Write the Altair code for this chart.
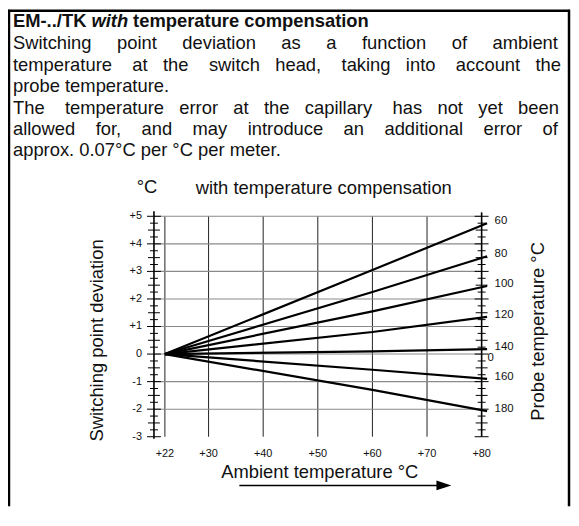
import altair as alt
import pandas as pd

NB = "\u00a0"
FONT = "Liberation Sans"

# ---------------- data ----------------
title_parts = ["EM-../TK", "with", "temperature compensation"]
body_lines = [
    "Switching point deviation as a function of ambient",
    "temperature at the switch head, taking into account the",
    "probe temperature.",
    "The temperature error at the capillary has not yet been",
    "allowed for, and may introduce an additional error of",
    "approx. 0.07°C per °C per meter.",
]
extra_nbsp = [28, 20, 0, 20, 24, 0]   # justification padding per line

ambient = [22, 60, 81]
probe_temps = [60, 80, 100, 120, 140, 160, 180]
dev_60 = [0, 3.05, 4.75]
dev_80 = [0, 2.25, 3.55]
dev_100 = [0, 1.55, 2.47]
dev_120 = [0, 0.80, 1.35]
dev_140 = [0, 0.10, 0.18]
dev_160 = [0, -0.57, -0.90]
dev_180 = [0, -1.30, -2.07]

x_ticks = [22, 30, 40, 50, 60, 70, 80]
x_tick_labels = ["+22", "+30", "+40", "+50", "+60", "+70", "+80"]
y_ticks = [-3, -2, -1, 0, 1, 2, 3, 4, 5]
y_tick_labels = ["-3", "-2", "-1", "0", "+1", "+2", "+3", "+4", "+5"]

# ---------------- layout ----------------
W, H = 330, 222
xs = alt.Scale(domain=[20, 80], nice=False, zero=False)
ys = alt.Scale(domain=[-3, 5], nice=False, zero=False)

series = [dev_60, dev_80, dev_100, dev_120, dev_140, dev_160, dev_180]
rows = []
for p, vals in zip(probe_temps, series):
    for a, v in zip(ambient, vals):
        rows.append({"probe": p, "amb": a, "dev": v})
lines_df = pd.DataFrame(rows)
ends_df = pd.DataFrame({"probe": [str(p) for p in probe_temps],
                        "dev": [s[-1] for s in series]})

one = pd.DataFrame({"a": [0]})


def justify(line, extra):
    words = line.split(" ")
    gaps = len(words) - 1
    if extra == 0 or gaps == 0:
        return line
    base, rem = divmod(extra, gaps)
    out = words[0]
    for i, w in enumerate(words[1:]):
        k = base + (1 if (i * rem) % gaps < rem else 0)
        out += " " + NB * k + w
    return out


def txt(text, x, y, size=18.5, align="left", baseline="alphabetic",
        weight="normal", style="normal", angle=0, color="#111"):
    return alt.Chart(pd.DataFrame({"t": [text]})).mark_text(
        font=FONT, fontSize=size, align=align, baseline=baseline,
        fontWeight=weight, fontStyle=style, angle=angle, color=color
    ).encode(text="t:N", x=alt.value(x), y=alt.value(y))


def rule(x, x2, y, y2, color="#000", width=1.0):
    return alt.Chart(one).mark_rule(color=color, strokeWidth=width).encode(
        x=alt.value(x), x2=alt.value(x2), y=alt.value(y), y2=alt.value(y2))


layers = []

# borders of the box
layers.append(rule(-146, -146, -208, H + 70, width=2.5))
layers.append(rule(418, 418, -208, H + 70, width=2.5))
layers.append(rule(-147, 419, -207, -207, width=2.5))

# grid
vgrid = pd.DataFrame({"v": x_ticks[:-1]})
layers.append(alt.Chart(vgrid).mark_rule(color="#222", strokeWidth=1).encode(
    x=alt.X("v:Q", scale=xs, axis=None), y=alt.value(0), y2=alt.value(H)))
hgrid = pd.DataFrame({"v": [-2, -1, 0, 1, 2, 3, 4, 5]})
layers.append(alt.Chart(hgrid).mark_rule(color="#8a8a8a", strokeWidth=1.1).encode(
    y=alt.Y("v:Q", scale=ys, axis=None), x=alt.value(0), x2=alt.value(W)))

# axis lines
layers.append(rule(0, 0, -5, H + 2, width=1.6))
layers.append(rule(W, W, -4, H, width=1.6))

# ticks on both vertical axes
quarters = pd.DataFrame({"v": [-3 + 0.25 * i for i in range(33) if i % 2 == 1]})
halves = pd.DataFrame({"v": [-3 + 0.5 * i for i in range(17) if i % 2 == 1]})
ints = pd.DataFrame({"v": y_ticks})
for df, ln in [(quarters, 4), (halves, 6), (ints, 7)]:
    for cx in (0, W):
        layers.append(alt.Chart(df).mark_rule(color="#000", strokeWidth=1).encode(
            y=alt.Y("v:Q", scale=ys, axis=None),
            x=alt.value(cx - ln), x2=alt.value(cx + ln)))

# curves
layers.append(alt.Chart(lines_df).mark_line(color="#000", strokeWidth=2.2).encode(
    x=alt.X("amb:Q", scale=xs, axis=None),
    y=alt.Y("dev:Q", scale=ys, axis=None),
    detail="probe:N"))

# curve labels
layers.append(alt.Chart(ends_df).mark_text(
    font=FONT, fontSize=11.5, align="left", baseline="middle", dx=0, dy=-2,
    color="#111").encode(
    x=alt.value(W + 13), y=alt.Y("dev:Q", scale=ys, axis=None), text="probe:N"))
layers.append(alt.Chart(pd.DataFrame({"v": [0], "t": ["0"]})).mark_text(
    font=FONT, fontSize=11.5, align="center", baseline="middle", dy=4,
    color="#111").encode(
    x=alt.value(W + 9), y=alt.Y("v:Q", scale=ys, axis=None), text="t:N"))

# tick labels
layers.append(alt.Chart(pd.DataFrame({"v": y_ticks, "t": y_tick_labels})).mark_text(
    font=FONT, fontSize=11, align="right", baseline="middle", color="#111").encode(
    x=alt.value(-12), y=alt.Y("v:Q", scale=ys, axis=None), text="t:N"))
layers.append(alt.Chart(pd.DataFrame({"v": x_ticks, "t": x_tick_labels})).mark_text(
    font=FONT, fontSize=11, align="center", baseline="middle", color="#111").encode(
    y=alt.value(H + 17), x=alt.X("v:Q", scale=xs, axis=None), text="t:N"))

# axis titles & annotations
layers.append(txt("°C", -7, -23, align="center"))
layers.append(txt("with temperature compensation", 171, -22, align="center"))
layers.append(txt("Switching point deviation", -57, 125, align="center",
                  baseline="middle", angle=270))
layers.append(txt("Probe temperature °C", 387, 116, align="center",
                  baseline="middle", angle=270))
layers.append(txt("Ambient temperature °C", 167, 264, align="center"))

# arrow
layers.append(rule(86, 286, 271, 271, width=1.5))
layers.append(alt.Chart(one).mark_point(
    shape="M-1,-0.67L1,0L-1,0.67Z", size=225, filled=True, color="#000",
    opacity=1, strokeWidth=0).encode(x=alt.value(292), y=alt.value(271)))

# header text
layers.append(txt(title_parts[0], -142, -191, weight="bold"))
layers.append(txt(title_parts[1], -63, -191, weight="bold", style="italic"))
layers.append(txt(title_parts[2], -21, -191, weight="bold"))
body_y = [-168, -146.5, -125, -103.5, -82, -60.5]
for line, extra, by in zip(body_lines, extra_nbsp, body_y):
    layers.append(txt(justify(line, extra), -142, by))

chart = alt.layer(*layers).properties(
    width=W, height=H,
    padding={"left": 147, "top": 208, "right": 90, "bottom": 70},
    autosize=alt.AutoSizeParams(type="none"),
).configure_view(strokeWidth=0)

chart.save("out.html", embed_options={"renderer": "svg", "actions": False})
